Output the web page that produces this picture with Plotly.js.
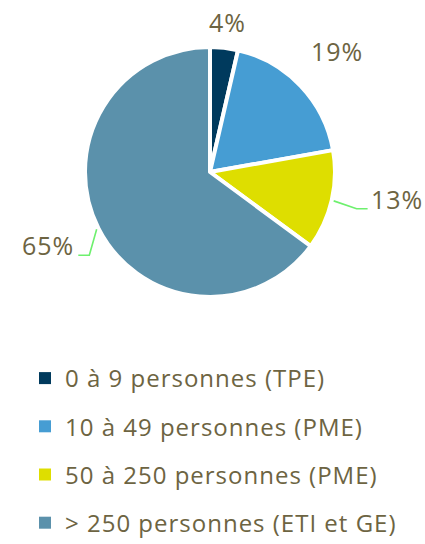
<!DOCTYPE html>
<html>
<head>
<meta charset="utf-8">
<script src="https://cdn.plot.ly/plotly-3.0.1.min.js"></script>
<style>
html,body{margin:0;padding:0;background:#fff;}
#chart{width:425px;height:544px;}
.legendtext{letter-spacing:1px;}
.annotation-text{letter-spacing:1px;}
</style>
</head>
<body>
<div id="chart"></div>
<script>
// ---- data ----
const labels = ['0 à 9 personnes (TPE)', '10 à 49 personnes (PME)', '50 à 250 personnes (PME)', '> 250 personnes (ETI et GE)'];
const values = [3.6, 18.6, 12.9, 64.9];
const colors = ['#003A5D', '#469DD3', '#DEDE00', '#5B91AB'];

// ---- styling / geometry (pixels) ----
const W = 425, H = 544;
const CX = 210, CY = 172, R = 125;
const labelR = [151, 175, 189, 178];
const labelShift = [0, 0, -5, 2.5];
const leader = [false, false, true, true];
const textColor = '#6D6442';
const fontFam = '"Open Sans", "DejaVu Sans", sans-serif';

const px = x => x / W;
const py = y => 1 - y / H;

const total = values.reduce((a, b) => a + b, 0);
const pct = values.map(v => Math.round(v / total * 100) + '%');

const annotations = [];
const shapes = [];
let cum = 0;
values.forEach((v, i) => {
  const mid = 360 * (cum + v / 2) / total;
  cum += v;
  const th = (mid + labelShift[i]) * Math.PI / 180;
  const lx = CX + labelR[i] * Math.sin(th);
  const ly = CY - labelR[i] * Math.cos(th);
  annotations.push({
    xref: 'paper', yref: 'paper', x: px(lx), y: py(ly),
    xanchor: 'center', yanchor: 'middle', showarrow: false,
    text: pct[i], font: {family: fontFam, size: 25, color: textColor}
  });
  if (leader[i]) {
    const t0 = mid * Math.PI / 180;
    const sx = CX + (R + 2) * Math.sin(t0);
    const sy = CY - (R + 2) * Math.cos(t0);
    const right = Math.sin(t0) > 0;
    const half = 24.5;
    const ex = right ? lx - half - 5 : lx + half + 6;
    const elx = right ? ex - 11 : ex + 11;
    const ey = ly + 10;
    shapes.push({
      type: 'path', xref: 'paper', yref: 'paper',
      path: `M ${px(sx)},${py(sy)} L ${px(elx)},${py(ey)} L ${px(ex)},${py(ey)}`,
      line: {color: '#6EF06E', width: 1.6}
    });
  }
});

const pie = {
  type: 'pie', labels: labels, values: values, sort: false,
  direction: 'clockwise', rotation: 0,
  marker: {colors: colors, line: {color: '#ffffff', width: 4}},
  textinfo: 'none', hoverinfo: 'none', showlegend: false,
  domain: {x: [px(CX - R), px(CX + R)], y: [py(CY + R), py(CY - R)]}
};

const legendTraces = labels.map((l, i) => ({
  type: 'scatter', mode: 'markers', x: [null], y: [null],
  name: l, legendgroup: 'g' + i, showlegend: true,
  marker: {symbol: 'square', size: 12, color: colors[i]},
  hoverinfo: 'none'
}));

const layout = {
  width: W, height: H,
  margin: {l: 0, r: 0, t: 0, b: 0, autoexpand: false},
  paper_bgcolor: '#ffffff', plot_bgcolor: '#ffffff',
  xaxis: {visible: false}, yaxis: {visible: false},
  showlegend: true,
  legend: {
    x: px(25), y: py(356), xanchor: 'left', yanchor: 'top',
    orientation: 'v', tracegroupgap: 14, itemsizing: 'constant',
    font: {family: fontFam, size: 24, color: textColor},
    bgcolor: 'rgba(0,0,0,0)'
  },
  annotations: annotations,
  shapes: shapes,
  hovermode: false
};

Plotly.newPlot('chart', [pie].concat(legendTraces), layout, {displayModeBar: false, staticPlot: true});
</script>
</body>
</html>
